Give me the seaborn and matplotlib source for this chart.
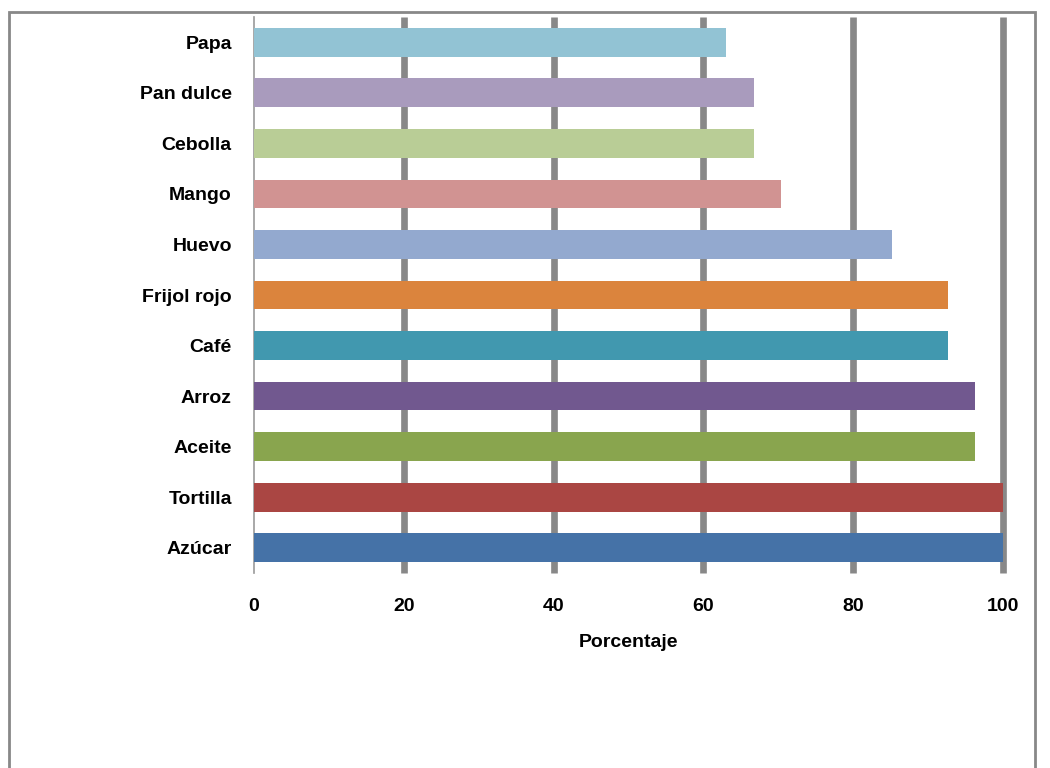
import matplotlib
matplotlib.use("Agg")
import matplotlib.pyplot as plt
import seaborn as sns
import pandas as pd
from matplotlib.patches import Rectangle

categories = ["Papa", "Pan dulce", "Cebolla", "Mango", "Huevo", "Frijol rojo",
              "Café", "Arroz", "Aceite", "Tortilla", "Azúcar"]
values = [63.0, 66.7, 66.7, 70.4, 85.2, 92.6, 92.6, 96.3, 96.3, 100.0, 100.0]
colors = ["#92C3D4", "#A99BBD", "#B9CD96", "#D19392", "#93A9CF", "#DB843D",
          "#4198AF", "#71588F", "#89A54E", "#AA4643", "#4572A7"]
xticks = [0, 20, 40, 60, 80, 100]
xlabel = "Porcentaje"

sns.set_theme(style="white")
plt.rcParams['font.family'] = ['Liberation Sans', 'DejaVu Sans']
plt.rcParams['text.color'] = 'black'
plt.rcParams['xtick.color'] = 'black'
plt.rcParams['ytick.color'] = 'black'
plt.rcParams['axes.labelcolor'] = 'black'

df = pd.DataFrame({"cat": categories, "val": values})

fig = plt.figure(figsize=(10.5, 7.68), dpi=100)
ax = fig.add_axes([254/1050, 1 - 573/768, 749/1050, (573-17)/768])

sns.barplot(data=df, x="val", y="cat", hue="cat", order=categories,
            palette=dict(zip(categories, colors)), legend=False,
            width=0.57, saturation=1, linewidth=0, edgecolor="none",
            ax=ax, zorder=3)

ax.set_xlim(0, 100)
ax.set_ylim(10.5, -0.5)
ax.set_xticks(xticks)
ax.set_xticklabels([str(t) for t in xticks], fontsize=14, fontweight="bold")
ax.set_yticks(range(len(categories)))
ax.set_yticklabels(categories, fontsize=14, fontweight="bold")
ax.tick_params(axis="x", length=0, pad=18)
ax.tick_params(axis="y", length=0, pad=16)
ax.set_xlabel(xlabel, fontsize=14, fontweight="bold", labelpad=14)
ax.set_ylabel("")

ax.xaxis.grid(True, color="#888888", linewidth=4.8, zorder=0,
              solid_capstyle="butt")
ax.set_axisbelow(True)
fig.canvas.draw()
for i, gl in enumerate(ax.get_xgridlines()):
    gl.set_clip_on(False)
    gl.set_solid_capstyle("butt")
    if i == 0:
        gl.set_visible(False)

for s in ["top", "right", "bottom"]:
    ax.spines[s].set_visible(False)
ax.spines["left"].set_color("#999999")
ax.spines["left"].set_linewidth(1.2)

fig.patches.append(Rectangle((9/1050, -0.05), (1035-9)/1050, 1.05 - 12/768,
                             transform=fig.transFigure, fill=False,
                             edgecolor="#888888", linewidth=2, clip_on=False))

fig.savefig("out.png", dpi=100)
